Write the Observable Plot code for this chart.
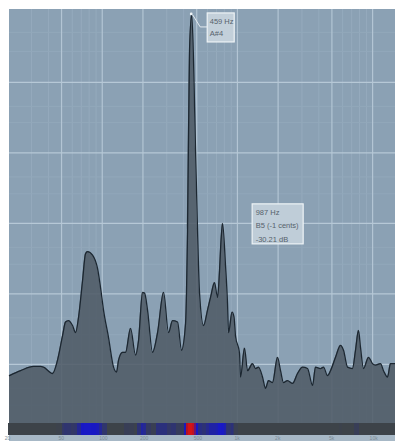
<!DOCTYPE html>
<html><head><meta charset="utf-8">
<script src="https://cdn.jsdelivr.net/npm/d3@7"></script>
<script src="https://cdn.jsdelivr.net/npm/@observablehq/plot@0.6"></script>
<style>html,body{margin:0;padding:0;background:#fff;overflow:hidden}#chart svg{display:block}</style>
</head><body><div id="chart"></div>
<script>
// Spectrum (frequency in Hz, level in dB)
const freqHz = [20.6, 24.9, 31.0, 35.0, 36.8, 42.9, 46.7, 50.9, 53.5, 56.3, 60.3, 63.5, 66.8, 71.5, 75.2, 77.9, 84.8, 92.3, 97.1, 102.2, 111.3, 121.2, 127.6, 132.0, 141.3, 148.7, 161.9, 176.3, 185.6, 198.7, 205.6, 216.3, 235.5, 256.5, 284.1, 309.3, 331.1, 360.6, 385.9, 413.2, 427.5, 442.3, 459, 473.5, 489.9, 506.9, 524.5, 561.5, 600.9, 632.4, 677.2, 712.6, 737.2, 756.3, 775.9, 816.6, 845.0, 859.5, 912.4, 943.9, 968.1, 1036, 1054, 1128, 1188, 1293, 1361, 1432, 1533, 1614, 1698, 1818, 1980, 2084, 2193, 2348, 2556, 2783, 3030, 3300, 3594, 3782, 4117, 4334, 4639, 4883, 5317, 5789, 6092, 6522, 7101, 7472, 7864, 8138, 8564, 9327, 9984, 10506, 11440, 12038, 12890, 13564, 14770];
const levelDb = [-51.6, -50.9, -50.3, -50.3, -50.4, -51.3, -49.4, -45.9, -44.0, -43.8, -44.5, -45.5, -43.3, -38.1, -34.3, -34.0, -34.5, -36.4, -39.1, -42.3, -46.2, -50.4, -51.1, -49.4, -48.3, -48.3, -44.9, -48.7, -46.6, -39.8, -39.9, -42.3, -48.3, -45.5, -39.8, -45.5, -43.8, -44.0, -48.0, -44.2, -31.0, -5.5, -0.35, -6.9, -19.6, -31.0, -39.9, -44.5, -42.3, -40.5, -38.4, -40.5, -36.7, -32.4, -30.0, -36.0, -41.4, -45.5, -42.6, -43.3, -46.0, -48.4, -51.8, -47.7, -50.9, -49.9, -50.6, -50.4, -51.8, -53.4, -52.3, -52.6, -49.0, -50.9, -52.6, -52.3, -52.7, -51.3, -50.4, -50.6, -53.0, -50.4, -50.6, -50.4, -51.6, -50.9, -49.0, -47.3, -48.0, -50.4, -50.6, -48.0, -45.2, -47.6, -50.6, -49.0, -49.9, -50.1, -49.9, -50.9, -51.8, -49.9, -49.9];

// Axis ticks
const majorFreqTicks = [50, 100, 200, 500, 1000, 2000, 5000, 10000];
const minorFreqTicks = [30, 40, 60, 70, 80, 90, 300, 400, 600, 700, 800, 900, 3000, 4000, 6000, 7000, 8000, 9000];
const freqTickValues = [20, 50, 100, 200, 500, 1000, 2000, 5000, 10000];
const freqTickLabels = ["20", "50", "100", "200", "500", "1k", "2k", "5k", "10k"];
const majorDbTicks = [-10, -20, -30, -40, -50];
const minorDbTicks = [-2.9, -5.6, -13.4, -15.7, -23.4, -25.8, -33.4, -35.8, -43.4, -45.8, -53.4, -55.8];

// Readouts
const peakReadout = ["459 Hz", "A#4"];
const peakFreq = 459, peakDb = -0.35;
const cursorReadout = ["987 Hz", "B5 (-1 cents)", "-30.21 dB"];
const cursorFreq = 987, cursorDb = -30.21;

// Scale extents
const F_MIN = 20.6, F_MAX = 14770;
const DB_TOP = 0.35, DB_FLOOR = -58.4, DB_STRIP = -60.1, DB_LABEL = -60.55, DB_OUT = -62;

const spectrum = freqHz.map((f, i) => ({f, db: levelDb[i]}));
const segments = d3.range(freqHz.length - 1).map(i => ({
  f1: freqHz[i], f2: freqHz[i + 1], level: (levelDb[i] + levelDb[i + 1]) / 2
}));
const stripColor = d3.scaleLinear()
  .domain([-48, -43, -37, -30, -22, -5])
  .range(["#3d4349", "#2c3178", "#1818c4", "#1a1ac6", "#a8122e", "#d41414"])
  .clamp(true);

function callouts(index, scales) {
  const g = d3.create("svg:g");
  const px = scales.x(peakFreq), py = scales.y(peakDb);
  g.append("path")
    .attr("d", `M${px + 1.5},${py + 1}L${px + 9},${py + 13}H${px + 16}`)
    .attr("fill", "none").attr("stroke", "#e4ebf0").attr("stroke-width", 1);
  g.append("rect")
    .attr("x", px + 16).attr("y", py - 1).attr("width", 27).attr("height", 29)
    .attr("fill", "#c3d0da").attr("stroke", "#eef3f6").attr("stroke-width", 1.2);
  const cx = scales.x(cursorFreq), cy = scales.y(cursorDb);
  g.append("rect")
    .attr("x", cx + 16).attr("y", cy - 20.5).attr("width", 51).attr("height", 40)
    .attr("fill", "#bfcdd8").attr("stroke", "#eef3f6").attr("stroke-width", 1.2);
  g.append("circle").attr("cx", px).attr("cy", py).attr("r", 1.4).attr("fill", "#eef3f6");
  return g.node();
}

const chart = Plot.plot({
  width: 395, height: 441,
  marginLeft: 9, marginRight: 0, marginTop: 9, marginBottom: 6,
  x: {type: "log", domain: [F_MIN, F_MAX], axis: null},
  y: {domain: [DB_STRIP, DB_TOP], axis: null},
  style: {background: "#ffffff", fontFamily: "'Liberation Sans', Arial, sans-serif"},
  marks: [
    Plot.rect([{a: F_MIN, b: F_MAX, lo: DB_FLOOR, hi: DB_TOP}], {x1: "a", x2: "b", y1: "lo", y2: "hi", fill: "#8ba1b4"}),
    Plot.rect([{a: F_MIN, b: F_MAX, lo: DB_OUT, hi: DB_STRIP}], {x1: "a", x2: "b", y1: "lo", y2: "hi", fill: "#a7b8c6"}),
    Plot.ruleX(minorFreqTicks, {x: d => d, y1: () => DB_FLOOR, y2: () => DB_TOP, stroke: "#95aabd", strokeWidth: 1}),
    Plot.ruleY(minorDbTicks, {y: d => d, stroke: "#92a8ba", strokeWidth: 1}),
    Plot.ruleX(majorFreqTicks, {x: d => d, y1: () => DB_FLOOR, y2: () => DB_TOP, stroke: "#b3c5d4", strokeWidth: 1.2}),
    Plot.ruleY(majorDbTicks, {y: d => d, stroke: "#b6c8d6", strokeWidth: 1.2}),
    Plot.areaY(spectrum, {x: "f", y1: () => DB_FLOOR, y2: "db", fill: "#4f5b66", fillOpacity: 0.87, curve: "monotone-x"}),
    Plot.lineY(spectrum, {x: "f", y: "db", stroke: "#1c2731", strokeWidth: 1.3, curve: "monotone-x"}),
    Plot.rect(segments, {x1: "f1", x2: "f2", y1: () => DB_STRIP, y2: () => DB_FLOOR, insetLeft: -0.6, insetRight: -0.6, shapeRendering: "crispEdges", fill: d => stripColor(d.level)}),
    Plot.text(freqTickValues, {x: d => d, y: () => DB_LABEL, text: (d, i) => freqTickLabels[i], textAnchor: "start", dx: -3, lineAnchor: "middle", fontSize: 5, fill: "#7b8b96"}),
    callouts,
    Plot.text([peakReadout.join("\n")], {x: () => peakFreq, y: () => peakDb, text: d => d, dx: 18, dy: 2, textAnchor: "start", lineAnchor: "top", lineHeight: 1.5, fontSize: 7.5, fill: "#56626c"}),
    Plot.text([cursorReadout.join("\n")], {x: () => cursorFreq, y: () => cursorDb, text: d => d, dx: 19, dy: -1, textAnchor: "start", lineAnchor: "middle", lineHeight: 1.8, fontSize: 7.5, fill: "#56626c"})
  ]
});
document.getElementById("chart").appendChild(chart);
</script>
</body></html>
